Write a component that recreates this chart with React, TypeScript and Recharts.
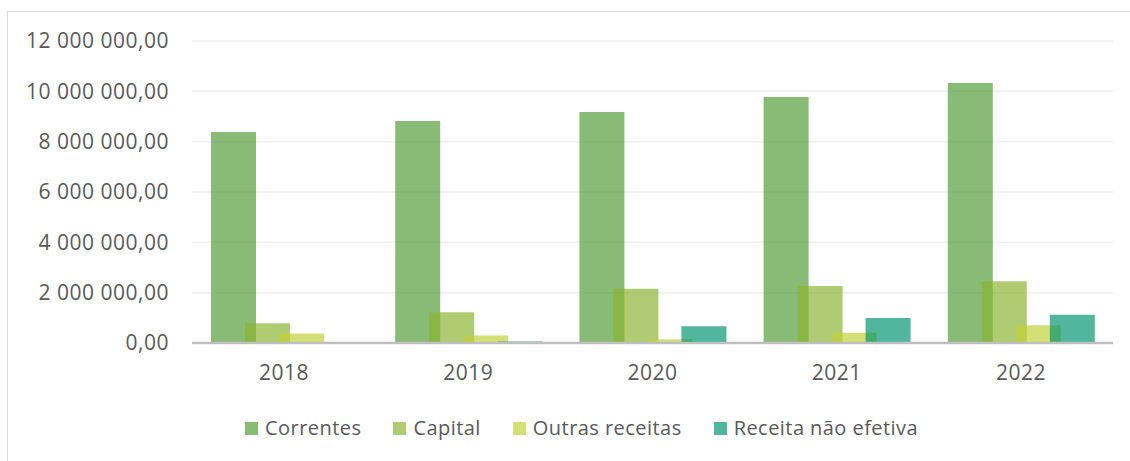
import React from "react";
import { BarChart, Bar, XAxis, YAxis, CartesianGrid, Legend } from "recharts";

const years = ["2018", "2019", "2020", "2021", "2022"];
const correntes = [8380000, 8820000, 9180000, 9770000, 10330000];
const capital = [780000, 1220000, 2160000, 2260000, 2450000];
const outrasReceitas = [380000, 300000, 150000, 410000, 710000];
const receitaNaoEfetiva = [0, 60000, 670000, 990000, 1120000];
const yTicks = [0, 2000000, 4000000, 6000000, 8000000, 10000000, 12000000];

const seriesNames = ["Correntes", "Capital", "Outras receitas", "Receita não efetiva"];
const seriesFills = ["#509B33", "#8AB431", "#C0D034", "#00926F"];
const seriesLegend = ["#88BB74", "#AFCC72", "#D4DF75", "#4FB59D"];

const data = years.map((y, i) => ({
  year: y,
  s0: correntes[i],
  s1: capital[i],
  s2: outrasReceitas[i],
  s3: receitaNaoEfetiva[i],
}));

const fmt = (v: number) => {
  const s = Math.round(v).toString().replace(/\B(?=(\d{3})+(?!\d))/g, " ");
  return s + ",00";
};

const FONT = "'Open Sans', sans-serif";
const TXT = "#595959";
const tickStyle = { fill: TXT, fontSize: 21, fontFamily: FONT, letterSpacing: "0.5px" };

const LegendContent = () => (
  <div style={{ display: "flex", alignItems: "center", fontFamily: FONT, fontSize: 20, letterSpacing: "0.45px", color: TXT, whiteSpace: "nowrap", lineHeight: "28px" }}>
    {seriesNames.map((n, i) => (
      <div key={n} style={{ display: "flex", alignItems: "center", marginRight: 32 }}>
        <div style={{ width: 13, height: 13, background: seriesLegend[i], marginRight: 7 }} />
        <span>{n}</span>
      </div>
    ))}
  </div>
);

export default function App() {
  return (
    <div style={{ position: "absolute", left: 0, top: 0, width: 1130, height: 461, background: "#fff" }}>
      <div style={{ position: "absolute", left: 7, top: 11, width: 1123, height: 450, borderTop: "1.5px solid #d9d9d9", borderLeft: "1.5px solid #d9d9d9", boxSizing: "border-box" }} />
      <div style={{ position: "absolute", left: 0, top: 0 }}>
        <BarChart
          width={1130}
          height={461}
          data={data}
          margin={{ top: 41, right: 17, left: 0, bottom: 0 }}
          barSize={45}
          barGap={-11}
        >
          <CartesianGrid vertical={false} stroke="#eeeeee" strokeWidth={1.5} />
          <XAxis
            dataKey="year"
            height={118}
            tickLine={false}
            tickSize={0}
            tickMargin={22}
            axisLine={{ stroke: "#bfbfbf", strokeWidth: 2.5 }}
            tick={tickStyle}
          />
          <YAxis
            width={192}
            domain={[0, 12000000]}
            ticks={yTicks}
            interval={0}
            tickFormatter={fmt}
            axisLine={false}
            tickLine={false}
            tickSize={0}
            tickMargin={23}
            tick={tickStyle}
          />
          {seriesNames.map((n, i) => (
            <Bar
              key={n}
              dataKey={"s" + i}
              name={n}
              fill={seriesFills[i]}
              fillOpacity={0.68}
              isAnimationActive={false}
            />
          ))}
          <Legend
            layout="horizontal"
            verticalAlign="middle"
            align="center"
            content={<LegendContent />}
            wrapperStyle={{ top: 414, left: 245, width: "auto" }}
          />
        </BarChart>
      </div>
    </div>
  );
}
